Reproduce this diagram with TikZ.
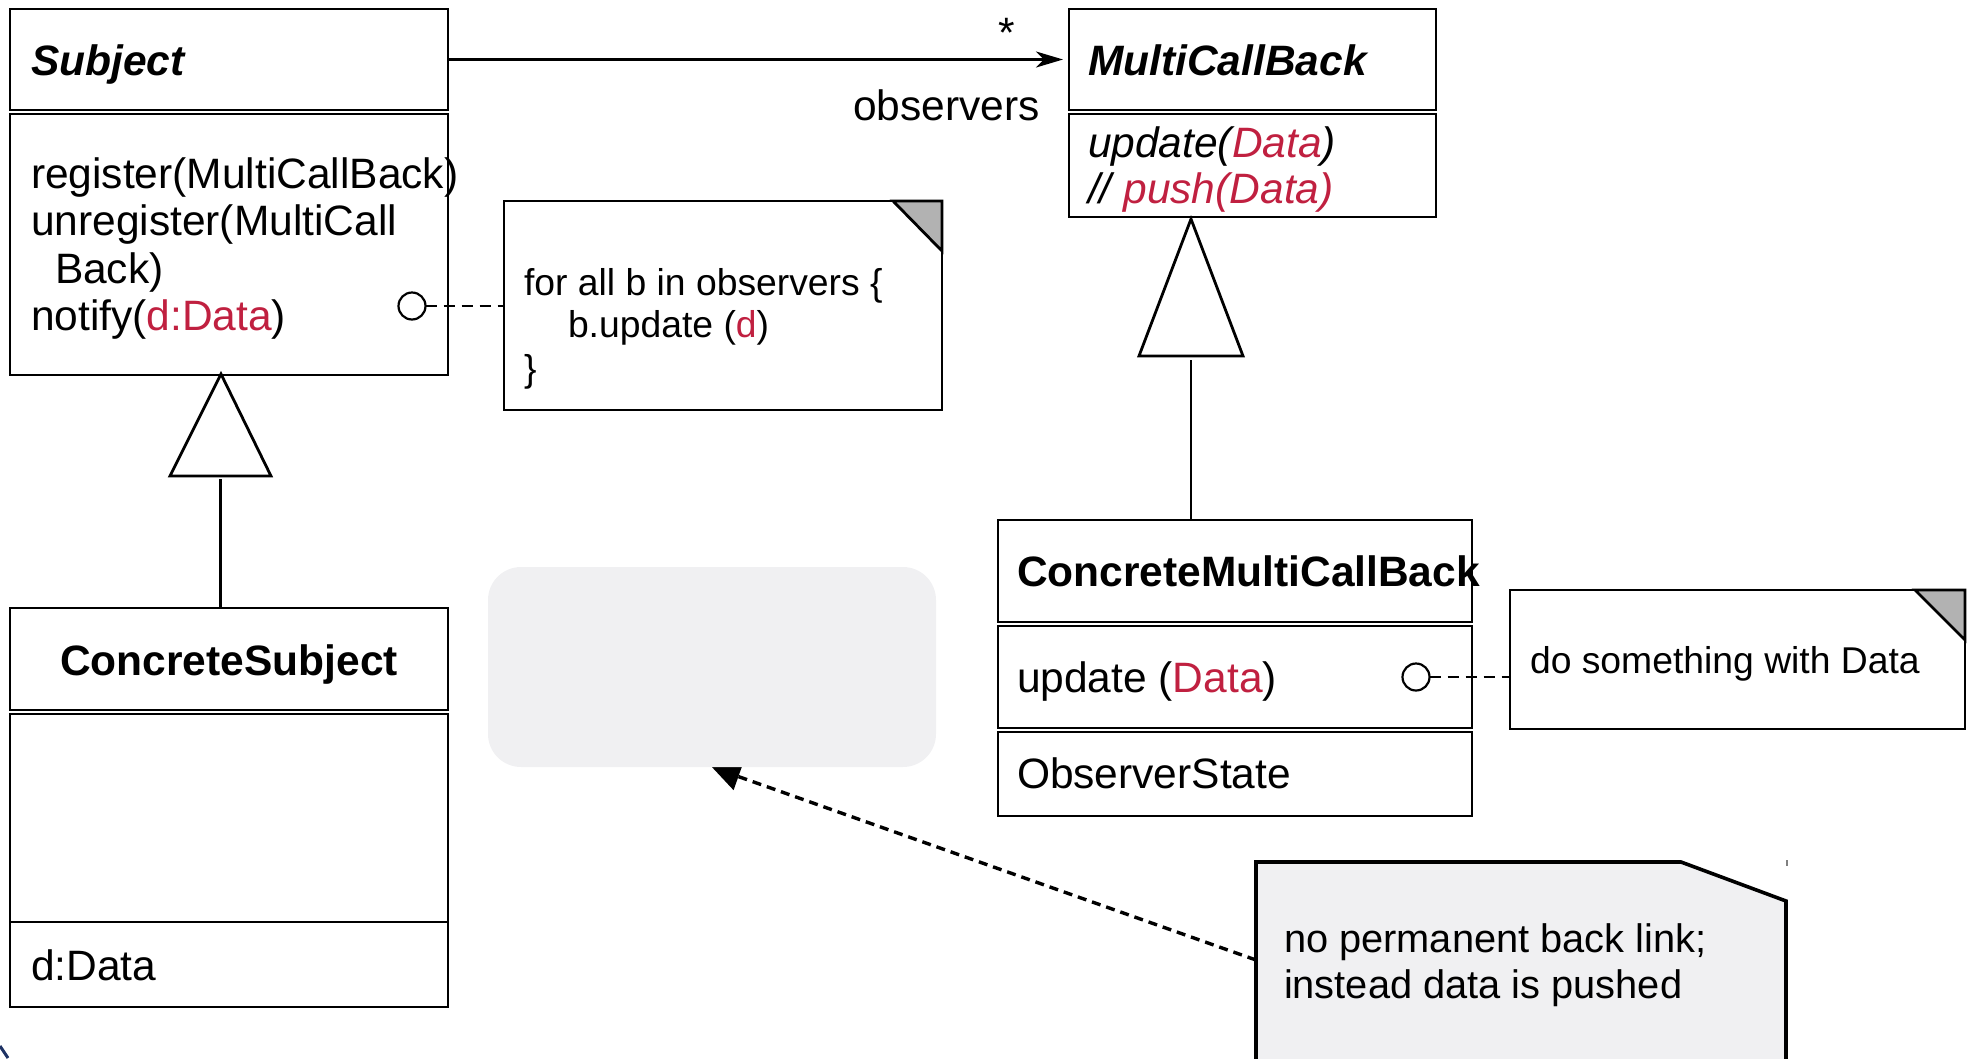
\documentclass[tikz,border=0pt]{standalone}
\usepackage{fontspec}
\setmainfont{Liberation Sans}
\usetikzlibrary{arrows.meta,calc}
\definecolor{rd}{RGB}{192,32,64}
\definecolor{lgrey}{RGB}{240,240,242}
\definecolor{foldg}{RGB}{178,178,178}
\definecolor{dblue}{RGB}{30,50,100}
\pgfdeclarelayer{bg}
\pgfsetlayers{bg,main}
\newcommand\fm{\fontsize{42.5}{48}\selectfont}
\newcommand\fn{\fontsize{37.3}{42}\selectfont}
\newcommand\fk{\fontsize{39.8}{46}\selectfont}
\begin{document}
\begin{tikzpicture}[x=1pt,y=-1pt,
  comp/.style={draw,line width=2.8pt,anchor=north west,inner sep=0pt,outer sep=0pt},
  notebox/.style={draw,fill=white,line width=2.8pt,anchor=north west,inner sep=0pt,outer sep=0pt},
  txt/.style={inner sep=0pt,outer sep=0pt,anchor=base west},
  hole/.style={circle,draw,line width=2.2pt,minimum size=27pt,inner sep=0pt,outer sep=0pt},
  dashconn/.style={line width=2.4pt,dash pattern=on 11pt off 7pt},
  inh/.style={draw,line width=2.8pt,fill=white,line join=miter}]
\useasboundingbox (0,0) rectangle (1974,1058);
\clip (0,0) rectangle (1974,1058);

% ---------- Subject ----------
\node[comp,minimum width=438pt,minimum height=101pt] (subjH) at (10,9) {};
\node[comp,minimum width=438pt,minimum height=261pt] (subjB) at (10,114) {};
\node[txt,font=\fm\bfseries\itshape] (tSubj) at (31,75) {Subject};
\node[txt,font=\fm] (tReg) at (31,188) {register(MultiCallBack)};
\node[txt,font=\fm] (tUnreg) at (31,235) {unregister(MultiCall};
\node[txt,font=\fm] (tBack) at (55,283) {Back)};
\node[txt,font=\fm] (tNot) at (31,330) {notify(\textcolor{rd}{d:Data})};

% ---------- MultiCallBack ----------
\node[comp,minimum width=367pt,minimum height=101pt] (mcbH) at (1069,9) {};
\node[comp,minimum width=367pt,minimum height=103pt] (mcbB) at (1069,114) {};
\node[txt,font=\fm\bfseries\itshape] (tMcb) at (1088,75) {MultiCallBack};
\node[txt,font=\fm\itshape] (tUpd) at (1088,157) {update(\textcolor{rd}{Data})};
\node[txt,font=\fm\itshape] (tPush) at (1088,203) {// \textcolor{rd}{push(Data)}};

% association
\draw[line width=2.4pt,-{Stealth[length=27pt,width=16pt,inset=8pt]}] (subjH.east) -- ([xshift=-6pt]subjH.east -| mcbH.west);
\node[inner sep=0pt,anchor=base,font=\fm] (star) at (1007,47) {*};
\node[inner sep=0pt,anchor=base east,font=\fm] (obs) at (1040,120) {observers};

% ---------- Note 1 ----------
\node[notebox,minimum width=438pt,minimum height=209pt] (n1) at (504,201) {};
\fill[foldg] ($(n1.north east)+(-49,0)$) -- (n1.north east) -- ($(n1.north east)+(0,50)$) -- cycle;
\draw[line width=2.8pt] ($(n1.north east)+(-49,0)$) -- (n1.north east) -- ($(n1.north east)+(0,50)$) -- cycle;
\node[txt,font=\fn] (n1a) at (524,295) {for all b in observers \{};
\node[txt,font=\fn] (n1b) at (568,337) {b.update (\textcolor{rd}{d})};
\node[txt,font=\fn] (n1c) at (524,381) {\}};
\node[hole] (c1) at (412,306) {};
\draw[dashconn] (c1.east) -- (c1.east -| n1.west);

% ---------- Inheritance Subject ----------
\coordinate (tri1apex) at (221,374);
\coordinate (tri1l) at (170,476);
\coordinate (tri1r) at (271,476);
\coordinate (tri1b) at (220.5,479);
\path[inh] (tri1apex) -- (tri1l) -- (tri1r) -- cycle;
\node[comp,minimum width=438pt,minimum height=102pt] (csH) at (10,608) {};
\node[comp,minimum width=438pt,minimum height=208pt] (csB) at (10,714) {};
\node[comp,minimum width=438pt,minimum height=85pt] (csA) at (10,922) {};
\node[inner sep=0pt,anchor=base,font=\fm\bfseries] (tCs) at (229,675) {ConcreteSubject};
\node[txt,font=\fm] (tD) at (31,980) {d:Data};
\draw[line width=2.4pt] (tri1b) -- (tri1b |- csH.north);

% ---------- Inheritance MultiCallBack ----------
\coordinate (tri2apex) at (1191,219);
\coordinate (tri2l) at (1139,356);
\coordinate (tri2r) at (1243,356);
\coordinate (tri2b) at (1191,360);
\path[inh] (tri2apex) -- (tri2l) -- (tri2r) -- cycle;
\node[comp,minimum width=474pt,minimum height=102pt] (cmH) at (998,520) {};
\node[comp,minimum width=474pt,minimum height=102pt] (cmB) at (998,626) {};
\node[comp,minimum width=474pt,minimum height=84pt] (cmA) at (998,732) {};
\draw[line width=2.4pt] (tri2b) -- (tri2b |- cmH.north);
\node[txt,font=\fm\bfseries] (tCm) at (1017,586) {ConcreteMultiCallBack};
\node[txt,font=\fm] (tUpd2) at (1017,692) {update (\textcolor{rd}{Data})};
\node[txt,font=\fm] (tObs) at (1017,788) {ObserverState};

% ---------- Note 2 ----------
\node[notebox,minimum width=455pt,minimum height=139pt] (n2) at (1510,590) {};
\fill[foldg] ($(n2.north east)+(-50,0)$) -- (n2.north east) -- ($(n2.north east)+(0,50)$) -- cycle;
\draw[line width=2.8pt] ($(n2.north east)+(-50,0)$) -- (n2.north east) -- ($(n2.north east)+(0,50)$) -- cycle;
\node[txt,font=\fn] (n2a) at (1530,673) {do something with Data};
\node[hole] (c2) at (1416,677) {};
\draw[dashconn] (c2.east) -- (c2.east -| n2.west);

% ---------- Grey box and Note 3 ----------
\node[fill=lgrey,rounded corners=33pt,minimum width=448pt,minimum height=200pt,inner sep=0pt] (gbox) at (712,667) {};
\draw[line width=3.6pt,fill=lgrey,line join=miter] (1256,1080) -- (1256,862) -- (1681,862) -- (1786,901) -- (1786,1080);
\coordinate (n3w) at (1256,960);
\node[txt,font=\fk] (n3a) at (1284,952) {no permanent back link;};
\node[txt,font=\fk] (n3b) at (1284,998) {instead data is pushed};
\begin{pgfonlayer}{bg}
\draw[line width=3.4pt,dash pattern=on 9pt off 6pt,-{Triangle[length=28pt,width=28pt]}] (n3w) -- (gbox.south);
\end{pgfonlayer}

% small marks
\draw[gray,line width=2pt] (1787,860) -- (1787,866);
\draw[dblue,line width=3pt] (0,1046) -- (8,1058);
\end{tikzpicture}
\end{document}
